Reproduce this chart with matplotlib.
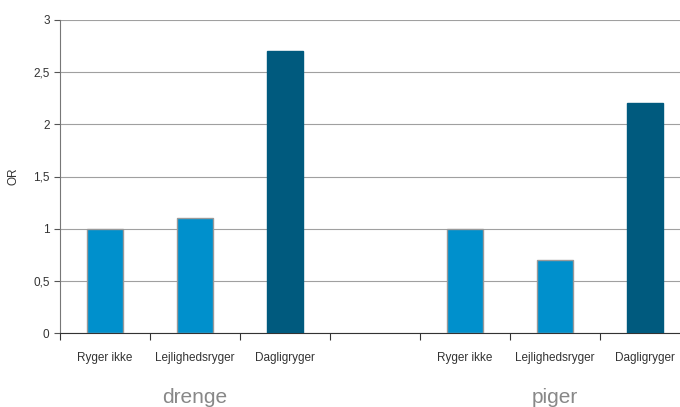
import matplotlib
matplotlib.use("Agg")
import matplotlib.pyplot as plt
from matplotlib.ticker import FuncFormatter

plt.rcParams['font.family'] = ['Liberation Sans', 'DejaVu Sans']

# data
categories = ["Ryger ikke", "Lejlighedsryger", "Dagligryger", "",
              "Ryger ikke", "Lejlighedsryger", "Dagligryger"]
odds_ratio = [1.0, 1.1, 2.7, 0.0, 1.0, 0.7, 2.2]
groups = ["drenge", "piger"]
group_centers = [1, 5]

light = "#0090cc"
dark = "#005a7e"
colors = [light, light, dark, "none", light, light, dark]
edges = ["#999999", "#999999", dark, "none", "#999999", "#999999", dark]

fig = plt.figure(figsize=(6.8, 4.07), dpi=100)
ax = fig.add_axes([60/680, 74/407, 630/680, 313/407])

x = list(range(len(categories)))
ax.bar(x, odds_ratio, width=0.4, color=colors, edgecolor=edges, linewidth=1, zorder=3)

ax.set_xlim(-0.5, 6.5)
ax.set_ylim(0, 3)
ax.set_yticks([0, 0.5, 1, 1.5, 2, 2.5, 3])
ax.yaxis.set_major_formatter(FuncFormatter(lambda v, p: f"{v:g}".replace(".", ",")))
ax.grid(axis="y", color="#a0a0a0", linewidth=0.8, zorder=0)

# x ticks at slot boundaries, labels centered
ax.set_xticks([i - 0.5 for i in range(8)])
ax.set_xticklabels([])
ax.set_xticks(x, minor=True)
ax.set_xticklabels(categories, minor=True, fontsize=8.5, color="#333333")
ax.tick_params(axis="x", which="minor", length=0, pad=14)
ax.tick_params(axis="x", which="major", length=5, color="#333333")
ax.tick_params(axis="y", length=4, labelsize=8.5, labelcolor="#333333", color="#555555")

for s in ["top", "right"]:
    ax.spines[s].set_visible(False)
ax.spines["left"].set_color("#777777")
ax.spines["bottom"].set_color("#333333")

ax.set_ylabel("OR", fontsize=8.5, color="#333333", labelpad=10)

for g, c in zip(groups, group_centers):
    ax.text(c, -0.205, g, transform=ax.get_xaxis_transform(), ha="center", va="center",
            fontsize=15, color="#888888")

fig.savefig("out.png", dpi=100)
